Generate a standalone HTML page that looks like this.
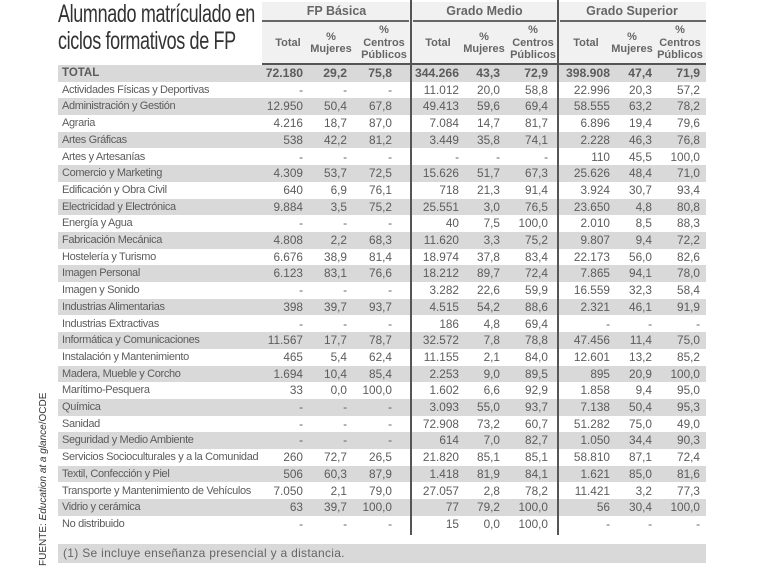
<!DOCTYPE html>
<html><head><meta charset="utf-8"><style>
body{margin:0;width:760px;height:570px;background:#fff;position:relative;overflow:hidden;font-family:"Liberation Sans",sans-serif;color:#5a5a5a}
.title{position:absolute;left:58px;top:1px;font-size:25px;line-height:27px;color:#333;transform:scaleX(0.72);transform-origin:0 0;white-space:nowrap;letter-spacing:-0.5px}
.hbg{position:absolute;left:262px;top:2px;width:444px;height:62px;background:#f1f1f1}
.g{position:absolute;top:4px;font-size:12.5px;font-weight:bold;color:#666;text-align:center}
.gl{position:absolute;top:20px;height:2px;background:#666}
.sh{position:absolute;top:24px;height:38px;font-size:11px;font-weight:bold;color:#666;text-align:center;line-height:12.5px;display:flex;align-items:center;justify-content:center}
.hl{position:absolute;left:262px;top:63px;width:444px;height:2px;background:#555}
.vd{position:absolute;top:0;width:2px;height:535px;background:#555}
.row{position:absolute;left:58px;width:648px;height:16.7px;font-size:11.8px;color:#5c5c5c}
.row.s{background:#d9d9d9}
.c{position:absolute;top:0;line-height:16.7px;white-space:nowrap;text-align:right}
.l{left:4px;text-align:left;font-size:11px;letter-spacing:-0.35px}
.row.t .c{font-weight:bold;font-size:12.2px}
.row.t .l{font-size:11.5px;letter-spacing:0}
.foot{position:absolute;left:58px;top:544px;width:648px;height:19px;background:#d9d9d9;font-size:12px;color:#666;line-height:19px;padding-left:5px;box-sizing:border-box;letter-spacing:0.3px}
.src{position:absolute;left:38px;top:566px;transform:rotate(-90deg);transform-origin:0 0;font-size:10px;color:#333;white-space:nowrap}
</style></head><body>
<div class="title">Alumnado matrículado en<br>ciclos formativos de FP</div>
<div class="hbg"></div>
<div class="g" style="left:262px;width:149px">FP Básica</div>
<div class="g" style="left:411px;width:147px">Grado Medio</div>
<div class="g" style="left:558px;width:148px">Grado Superior</div>
<div class="gl" style="left:262px;width:147px"></div>
<div class="gl" style="left:413px;width:143px"></div>
<div class="gl" style="left:560px;width:146px"></div>
<div class="sh" style="left:268px;width:40px">Total</div>
<div class="sh" style="left:308px;width:46px">%<br>Mujeres</div>
<div class="sh" style="left:358px;width:52px">%<br>Centros<br>Públicos</div>
<div class="sh" style="left:416px;width:44px">Total</div>
<div class="sh" style="left:460px;width:48px">%<br>Mujeres</div>
<div class="sh" style="left:508px;width:50px">%<br>Centros<br>Públicos</div>
<div class="sh" style="left:563px;width:46px">Total</div>
<div class="sh" style="left:609px;width:46px">%<br>Mujeres</div>
<div class="sh" style="left:655px;width:50px">%<br>Centros<br>Públicos</div>
<div class="hl"></div>
<div id="rows"></div>
<div class="vd" style="left:410px"></div>
<div class="vd" style="left:557px"></div>
<div class="foot">(1) Se incluye enseñanza presencial y a distancia.</div>
<div class="src">FUENTE: <i>Education at a glance</i>/OCDE</div>
<script>
const R=[
["TOTAL","72.180","29,2","75,8","344.266","43,3","72,9","398.908","47,4","71,9"],
["Actividades Físicas y Deportivas","-","-","-","11.012","20,0","58,8","22.996","20,3","57,2"],
["Administración y Gestión","12.950","50,4","67,8","49.413","59,6","69,4","58.555","63,2","78,2"],
["Agraria","4.216","18,7","87,0","7.084","14,7","81,7","6.896","19,4","79,6"],
["Artes Gráficas","538","42,2","81,2","3.449","35,8","74,1","2.228","46,3","76,8"],
["Artes y Artesanías","-","-","-","-","-","-","110","45,5","100,0"],
["Comercio y Marketing","4.309","53,7","72,5","15.626","51,7","67,3","25.626","48,4","71,0"],
["Edificación y Obra Civil","640","6,9","76,1","718","21,3","91,4","3.924","30,7","93,4"],
["Electricidad y Electrónica","9.884","3,5","75,2","25.551","3,0","76,5","23.650","4,8","80,8"],
["Energía y Agua","-","-","-","40","7,5","100,0","2.010","8,5","88,3"],
["Fabricación Mecánica","4.808","2,2","68,3","11.620","3,3","75,2","9.807","9,4","72,2"],
["Hostelería y Turismo","6.676","38,9","81,4","18.974","37,8","83,4","22.173","56,0","82,6"],
["Imagen Personal","6.123","83,1","76,6","18.212","89,7","72,4","7.865","94,1","78,0"],
["Imagen y Sonido","-","-","-","3.282","22,6","59,9","16.559","32,3","58,4"],
["Industrias Alimentarias","398","39,7","93,7","4.515","54,2","88,6","2.321","46,1","91,9"],
["Industrias Extractivas","-","-","-","186","4,8","69,4","-","-","-"],
["Informática y Comunicaciones","11.567","17,7","78,7","32.572","7,8","78,8","47.456","11,4","75,0"],
["Instalación y Mantenimiento","465","5,4","62,4","11.155","2,1","84,0","12.601","13,2","85,2"],
["Madera, Mueble y Corcho","1.694","10,4","85,4","2.253","9,0","89,5","895","20,9","100,0"],
["Marítimo-Pesquera","33","0,0","100,0","1.602","6,6","92,9","1.858","9,4","95,0"],
["Química","-","-","-","3.093","55,0","93,7","7.138","50,4","95,3"],
["Sanidad","-","-","-","72.908","73,2","60,7","51.282","75,0","49,0"],
["Seguridad y Medio Ambiente","-","-","-","614","7,0","82,7","1.050","34,4","90,3"],
["Servicios Socioculturales y a la Comunidad","260","72,7","26,5","21.820","85,1","85,1","58.810","87,1","72,4"],
["Textil, Confección y Piel","506","60,3","87,9","1.418","81,9","84,1","1.621","85,0","81,6"],
["Transporte y Mantenimiento de Vehículos","7.050","2,1","79,0","27.057","2,8","78,2","11.421","3,2","77,3"],
["Vidrio y cerámica","63","39,7","100,0","77","79,2","100,0","56","30,4","100,0"],
["No distribuido","-","-","-","15","0,0","100,0","-","-","-"]];
const right=[0,303,347,392,459,500,548,610,652,700];
let h="";
R.forEach((r,i)=>{
  h+='<div class="row'+(i%2==0?' s':'')+(i==0?' t':'')+'" style="top:'+(65+i*16.7).toFixed(2)+'px">';
  r.forEach((c,j)=>{
    if(j==0) h+='<div class="c l">'+c+'</div>';
    else h+='<div class="c" style="right:'+(706-right[j])+'px">'+c+'</div>';
  });
  h+='</div>';
});
document.getElementById('rows').innerHTML=h;
</script>
</body></html>
